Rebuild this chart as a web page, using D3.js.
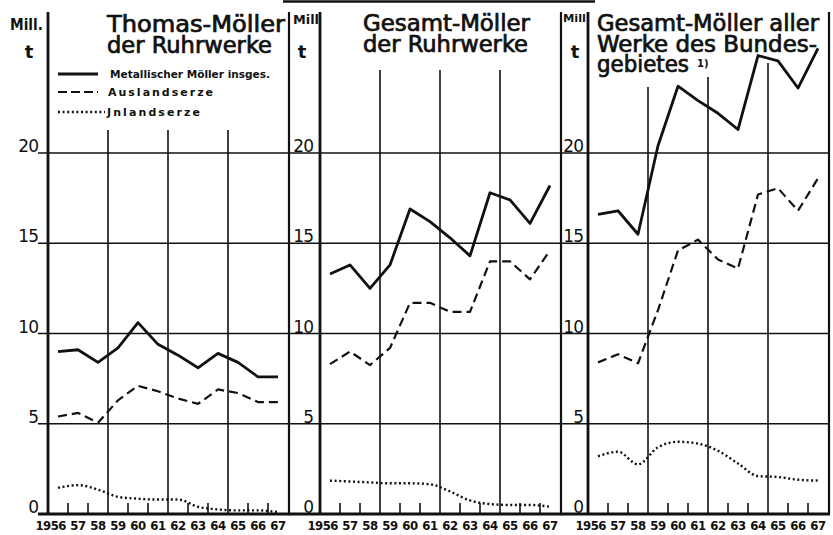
<!DOCTYPE html>
<html>
<head>
<meta charset="utf-8">
<script src="https://cdn.jsdelivr.net/npm/d3@7"></script>
<style>
  body { margin: 0; background: #fff; }
  svg text { font-family: "DejaVu Sans", sans-serif; fill: #111; }
</style>
</head>
<body>
<svg id="chart" width="833" height="535"></svg>
<script>
const years = [1956, 1957, 1958, 1959, 1960, 1961, 1962, 1963, 1964, 1965, 1966, 1967];
const yearLabels = ["1956", "57", "58", "59", "60", "61", "62", "63", "64", "65", "66", "67"];
const yTicks = [0, 5, 10, 15, 20];

// Thomas-Möller der Ruhrwerke
const thomasMetall = [9.0, 9.1, 8.4, 9.2, 10.6, 9.4, 8.8, 8.1, 8.9, 8.4, 7.6, 7.6];
const thomasAusland = [5.4, 5.6, 5.05, 6.3, 7.1, 6.8, 6.4, 6.1, 6.9, 6.7, 6.2, 6.2];
const thomasInland = [1.45, 1.6, 1.35, 0.95, 0.85, 0.8, 0.8, 0.4, 0.25, 0.2, 0.2, 0.1];

// Gesamt-Möller der Ruhrwerke
const ruhrMetall = [13.3, 13.8, 12.5, 13.8, 16.9, 16.2, 15.3, 14.3, 17.8, 17.4, 16.1, 18.2];
const ruhrAusland = [8.3, 9.0, 8.25, 9.2, 11.7, 11.7, 11.2, 11.2, 14.0, 14.0, 13.0, 14.6];
const ruhrInland = [1.85, 1.8, 1.75, 1.7, 1.7, 1.65, 1.25, 0.75, 0.55, 0.5, 0.5, 0.4];

// Gesamt-Möller aller Werke des Bundesgebietes
const bundMetall = [16.6, 16.8, 15.5, 20.4, 23.7, 22.9, 22.2, 21.3, 25.4, 25.1, 23.6, 25.8];
const bundAusland = [8.4, 8.85, 8.35, 11.3, 14.6, 15.2, 14.1, 13.6, 17.7, 18.05, 16.8, 18.6];
const bundInland = [3.2, 3.45, 2.75, 3.7, 4.0, 3.9, 3.5, 2.8, 2.1, 2.05, 1.9, 1.85];

const legendLabels = ["Metallischer Möller insges.", "Auslandserze", "Jnlandserze"];

const svg = d3.select("#chart");
const y = d3.scaleLinear().domain([0, 20]).range([514, 153]);

const seriesStyle = [
  { width: 2.8, dash: null },
  { width: 2.2, dash: "9,5" },
  { width: 2.4, dash: "2,2.6" }
];

const panels = [
  {
    left: 48, border: 289, gridTop: [130, 130, 130], tickLen: 10, labelX: 38,
    mill: { text: "Mill.", x: 10, y: 30, size: 15, w: 33 }, tX: 29,
    title: ["Thomas-Möller", "der Ruhrwerke"], titleX: 107, titleY: [32, 53], titleW: [178, 165],
    series: [thomasMetall, thomasAusland, thomasInland]
  },
  {
    left: 320, border: 561, gridTop: [70, 70, 70], tickLen: 31, labelX: 313,
    mill: { text: "Mill", x: 293, y: 24, size: 12, w: 26 }, tX: 302,
    title: ["Gesamt-Möller", "der Ruhrwerke"], titleX: 363, titleY: [31, 52], titleW: [167, 165],
    series: [ruhrMetall, ruhrAusland, ruhrInland]
  },
  {
    left: 588, border: 829, gridTop: [87, 77, 63], tickLen: 27, labelX: 583,
    mill: { text: "Mill", x: 563, y: 22, size: 11, w: 23 }, tX: 575,
    title: ["Gesamt-Möller aller", "Werke des Bundes-", "gebietes"], titleX: 597, titleY: [31, 52, 72], titleW: [222, 220, 92],
    series: [bundMetall, bundAusland, bundInland]
  }
];

// strip at the very top
svg.append("line")
  .attr("x1", 283).attr("x2", 595)
  .attr("y1", 1.5).attr("y2", 1.5)
  .attr("stroke", "#111").attr("stroke-width", 2.5);

panels.forEach(function (p) {
  const g = svg.append("g");
  const x = d3.scaleBand().domain(years).range([p.left, p.left + 240]);
  const cx = (d) => x(d) + x.bandwidth() / 2;

  // horizontal grid lines with ticks reaching left of the axis
  g.selectAll("line.hgrid")
    .data(yTicks.slice(1))
    .enter()
    .append("line")
    .attr("x1", p.left - p.tickLen)
    .attr("x2", p.border)
    .attr("y1", (d) => y(d))
    .attr("y2", (d) => y(d))
    .attr("stroke", "#111")
    .attr("stroke-width", 1.6);

  // vertical grid lines every 3 years
  g.selectAll("line.vgrid")
    .data([1959, 1962, 1965])
    .enter()
    .append("line")
    .attr("x1", (d) => x(d))
    .attr("x2", (d) => x(d))
    .attr("y1", (d, i) => p.gridTop[i])
    .attr("y2", y(0))
    .attr("stroke", "#111")
    .attr("stroke-width", 1.6);

  // small year ticks on the baseline
  g.selectAll("line.ytick")
    .data([1957, 1958, 1960, 1961, 1963, 1964, 1966, 1967])
    .enter()
    .append("line")
    .attr("x1", (d) => x(d))
    .attr("x2", (d) => x(d))
    .attr("y1", y(0) - 11)
    .attr("y2", y(0))
    .attr("stroke", "#111")
    .attr("stroke-width", 1.6);

  // frame: axis, baseline, right border
  g.append("line")
    .attr("x1", p.left).attr("x2", p.left)
    .attr("y1", 12).attr("y2", y(0) + 1)
    .attr("stroke", "#111").attr("stroke-width", 2.8);
  g.append("line")
    .attr("x1", p.left - p.tickLen).attr("x2", p.border + 1)
    .attr("y1", y(0)).attr("y2", y(0))
    .attr("stroke", "#111").attr("stroke-width", 2.8);
  g.append("line")
    .attr("x1", p.border).attr("x2", p.border)
    .attr("y1", 12).attr("y2", y(0))
    .attr("stroke", "#111").attr("stroke-width", 2.2);

  // y labels
  g.selectAll("text.ylab")
    .data(yTicks)
    .enter()
    .append("text")
    .attr("x", p.labelX)
    .attr("y", (d) => y(d) - 1)
    .attr("text-anchor", "end")
    .style("font-size", "17px")
    .style("letter-spacing", "-1px")
    .text((d) => d);

  // year labels ("19" hangs left of the first)
  g.selectAll("text.xlab")
    .data(years)
    .enter()
    .append("text")
    .attr("x", (d, i) => (i === 0 ? cx(d) + 8 : cx(d)))
    .attr("y", 530)
    .attr("text-anchor", (d, i) => (i === 0 ? "end" : "middle"))
    .style("font-family", "'DejaVu Sans Condensed', sans-serif")
    .style("font-weight", "bold")
    .style("font-size", "13px")
    .style("letter-spacing", "-0.5px")
    .text((d, i) => yearLabels[i]);

  // unit label
  g.append("text")
    .attr("x", p.mill.x).attr("y", p.mill.y)
    .attr("textLength", p.mill.w)
    .attr("lengthAdjust", "spacingAndGlyphs")
    .style("font-weight", "bold")
    .style("font-size", p.mill.size + "px")
    .text(p.mill.text);
  g.append("text")
    .attr("x", p.tX).attr("y", 58)
    .attr("text-anchor", "middle")
    .style("font-weight", "bold")
    .style("font-size", "18px")
    .text("t");

  // title as one text block, thickened a little with a thin stroke
  const title = g.append("text")
    .style("font-family", "'DejaVu Sans Condensed', sans-serif")
    .style("font-size", "23px")
    .style("stroke", "#111")
    .style("stroke-width", "0.7px");
  p.title.forEach(function (line, i) {
    title.append("tspan")
      .attr("x", p.titleX)
      .attr("y", p.titleY[i])
      .attr("textLength", p.titleW[i])
      .attr("lengthAdjust", "spacingAndGlyphs")
      .text(line);
  });

  // series
  p.series.forEach(function (values, k) {
    const line = d3.line()
      .x((d, i) => cx(years[i]))
      .y((d) => y(d))
      .curve(k === 2 ? d3.curveMonotoneX : d3.curveLinear);
    g.append("path")
      .datum(values)
      .attr("d", line)
      .attr("fill", "none")
      .attr("stroke", "#111")
      .attr("stroke-width", seriesStyle[k].width)
      .attr("stroke-linejoin", "round")
      .attr("stroke-dasharray", seriesStyle[k].dash);
  });
});

// footnote mark in third title
svg.append("text")
  .attr("x", 697).attr("y", 67)
  .style("font-size", "10px")
  .style("font-weight", "bold")
  .text("1)");

// legend in first panel
const legendY = [74, 92, 112];
const legendText = [
  { x: 110, w: 160, spacing: "spacingAndGlyphs" },
  { x: 108, w: 105, spacing: "spacing" },
  { x: 107, w: 93, spacing: "spacing" }
];
legendLabels.forEach(function (label, k) {
  svg.append("line")
    .attr("x1", 58)
    .attr("x2", k === 2 ? 105 : 98)
    .attr("y1", legendY[k])
    .attr("y2", legendY[k])
    .attr("stroke", "#111")
    .attr("stroke-width", seriesStyle[k].width)
    .attr("stroke-dasharray", k === 1 ? "9,4" : seriesStyle[k].dash);
  svg.append("text")
    .attr("x", legendText[k].x)
    .attr("y", legendY[k] + 4)
    .attr("textLength", legendText[k].w)
    .attr("lengthAdjust", legendText[k].spacing)
    .style("font-size", "11px")
    .style("font-weight", "bold")
    .text(label);
});
</script>
</body>
</html>
